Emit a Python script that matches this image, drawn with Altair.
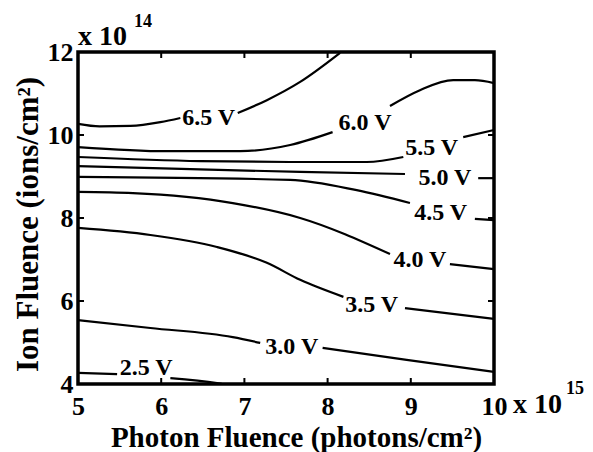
import altair as alt
import pandas as pd

# ---- contour lines (data units: x = photon fluence /1e15, y = ion fluence /1e14) ----
# None marks the gap where the contour label sits
c65_x = [5.00, 5.26, 5.63, 5.99, 6.23, None, 6.92, 7.27, 7.67, 8.15]
c65_y = [10.27, 10.21, 10.22, 10.31, 10.41, None, 10.53, 10.84, 11.28, 11.98]

c60_x = [5.00, 6.07, 6.95, 7.55, 8.06, None, 8.75, 9.11, 9.51, 9.77, 10.00]
c60_y = [9.71, 9.61, 9.61, 9.76, 10.07, None, 10.70, 11.08, 11.32, 11.32, 11.25]

c55_x = [5.00, 6.47, 7.55, 8.47, 8.91, None, 9.63, 10.00]
c55_y = [9.47, 9.37, 9.35, 9.35, 9.47, None, 9.95, 10.12]

c50_x = [5.00, 7.67, 8.93, None, 9.81, 10.00]
c50_y = [9.25, 9.11, 9.06, None, 8.96, 8.96]

c45_x = [5.00, 7.55, 8.35, 8.99, None, 9.77, 10.00]
c45_y = [8.99, 8.92, 8.67, 8.36, None, 7.98, 7.95]

c40_x = [5.00, 5.66, 6.86, 7.67, 8.75, None, 9.47, 10.00]
c40_y = [8.63, 8.60, 8.36, 8.00, 7.13, None, 6.89, 6.77]

c35_x = [5.00, 5.87, 6.67, 7.27, 7.67, 8.19, None, 8.93, 10.00]
c35_y = [7.76, 7.59, 7.30, 6.92, 6.51, 6.10, None, 5.83, 5.57]

c30_x = [5.00, 5.87, 6.86, 7.19, None, 7.94, 8.95, 10.00]
c30_y = [5.54, 5.35, 5.13, 4.99, None, 4.87, 4.58, 4.29]

c25_x = [5.00, 5.47, None, 6.11, 6.67, 6.73]
c25_y = [4.27, 4.24, None, 4.14, 4.02, 4.00]

# ---- contour labels ----
label_text = ["6.5 V", "6.0 V", "5.5 V", "5.0 V", "4.5 V", "4.0 V", "3.5 V", "3.0 V", "2.5 V"]
label_x = [6.57, 8.45, 9.25, 9.41, 9.36, 9.11, 8.53, 7.57, 5.82]
label_y = [10.41, 10.29, 9.69, 8.96, 8.12, 6.99, 5.90, 4.89, 4.39]

# ---- ticks ----
x_ticks = [5, 6, 7, 8, 9, 10]
y_ticks = [4, 6, 8, 10, 12]
x_inner_ticks = [6, 7, 8, 9]
y_inner_ticks = [6, 8, 10]

contours = [
    ("6.5 V", c65_x, c65_y), ("6.0 V", c60_x, c60_y), ("5.5 V", c55_x, c55_y),
    ("5.0 V", c50_x, c50_y), ("4.5 V", c45_x, c45_y), ("4.0 V", c40_x, c40_y),
    ("3.5 V", c35_x, c35_y), ("3.0 V", c30_x, c30_y), ("2.5 V", c25_x, c25_y),
]
rows = []
for name, xs, ys in contours:
    seg = 0
    for i, (x, y) in enumerate(zip(xs, ys)):
        if x is None:
            seg += 1
            continue
        rows.append({"level": name, "seg": f"{name}-{seg}", "x": x, "y": y, "order": i})
df = pd.DataFrame(rows)
labels_df = pd.DataFrame({"text": label_text, "x": label_x, "y": label_y})

FONT = "Liberation Serif"
xscale = alt.Scale(domain=[5, 10], nice=False, zero=False)
yscale = alt.Scale(domain=[4, 12], nice=False, zero=False)

lines = alt.Chart(df).mark_line(color="black", strokeWidth=2.2, interpolate="monotone").encode(
    x=alt.X("x:Q", scale=xscale, axis=alt.Axis(
        values=x_ticks, format="d", title="Photon Fluence (photons/cm²)",
        labelPadding=9, labelFlush=False, titleY=62, titleX=218,
        titleBaseline="alphabetic", titleFontSize=29)),
    y=alt.Y("y:Q", scale=yscale, axis=alt.Axis(
        values=y_ticks, format="d", title="Ion Fluence (ions/cm²)",
        labelPadding=5, labelFlush=False, titleX=-41, titleY=172,
        titleBaseline="alphabetic", titleAngle=-90, titleFontSize=31)),
    detail="seg:N",
    order="order:Q",
)

labels = alt.Chart(labels_df).mark_text(
    font=FONT, fontWeight="bold", fontSize=24, color="black", align="center", baseline="middle"
).encode(x=alt.X("x:Q", scale=xscale), y=alt.Y("y:Q", scale=yscale), text="text:N")

xt = pd.DataFrame({"v": x_inner_ticks})
yt = pd.DataFrame({"v": y_inner_ticks})
tick_bottom = alt.Chart(xt).mark_rule(color="black", strokeWidth=2).encode(
    x=alt.X("v:Q", scale=xscale), y=alt.value(332), y2=alt.value(326))
tick_top = alt.Chart(xt).mark_rule(color="black", strokeWidth=2).encode(
    x=alt.X("v:Q", scale=xscale), y=alt.value(0), y2=alt.value(6))
tick_left = alt.Chart(yt).mark_rule(color="black", strokeWidth=2).encode(
    y=alt.Y("v:Q", scale=yscale), x=alt.value(0), x2=alt.value(6))
tick_right = alt.Chart(yt).mark_rule(color="black", strokeWidth=2).encode(
    y=alt.Y("v:Q", scale=yscale), x=alt.value(416), x2=alt.value(410))

corner = pd.DataFrame({"x": [5], "y": [12]})
corner2 = pd.DataFrame({"x": [10], "y": [4]})
exp_top = alt.Chart(corner).mark_text(
    text="x 10", font=FONT, fontWeight="bold", fontSize=28, align="left",
    baseline="alphabetic", dx=0, dy=-7, color="black"
).encode(x=alt.X("x:Q", scale=xscale), y=alt.Y("y:Q", scale=yscale))
exp_top_sup = alt.Chart(corner).mark_text(
    text="14", font=FONT, fontWeight="bold", fontSize=18, align="left",
    baseline="alphabetic", dx=56, dy=-25, color="black"
).encode(x=alt.X("x:Q", scale=xscale), y=alt.Y("y:Q", scale=yscale))
exp_bot = alt.Chart(corner2).mark_text(
    text="x 10", font=FONT, fontWeight="bold", fontSize=28, align="left",
    baseline="alphabetic", dx=19, dy=29, color="black"
).encode(x=alt.X("x:Q", scale=xscale), y=alt.Y("y:Q", scale=yscale))
exp_bot_sup = alt.Chart(corner2).mark_text(
    text="15", font=FONT, fontWeight="bold", fontSize=18, align="left",
    baseline="alphabetic", dx=72, dy=10, color="black"
).encode(x=alt.X("x:Q", scale=xscale), y=alt.Y("y:Q", scale=yscale))

chart = alt.layer(
    lines, labels, tick_bottom, tick_top, tick_left, tick_right,
    exp_top, exp_top_sup, exp_bot, exp_bot_sup
).properties(
    width=416, height=332,
    autosize=alt.AutoSizeParams(type="none"),
    padding={"left": 78, "top": 52, "right": 99, "bottom": 68},
    background="white",
).configure_view(
    stroke="black", strokeWidth=3.5
).configure_axis(
    domain=False, grid=False, ticks=False, tickSize=0,
    labelFont=FONT, labelFontWeight="bold", labelFontSize=26, labelColor="black",
    titleFont=FONT, titleFontWeight="bold", titleColor="black",
)

chart.save("out.html", embed_options={"renderer": "svg", "actions": False})
